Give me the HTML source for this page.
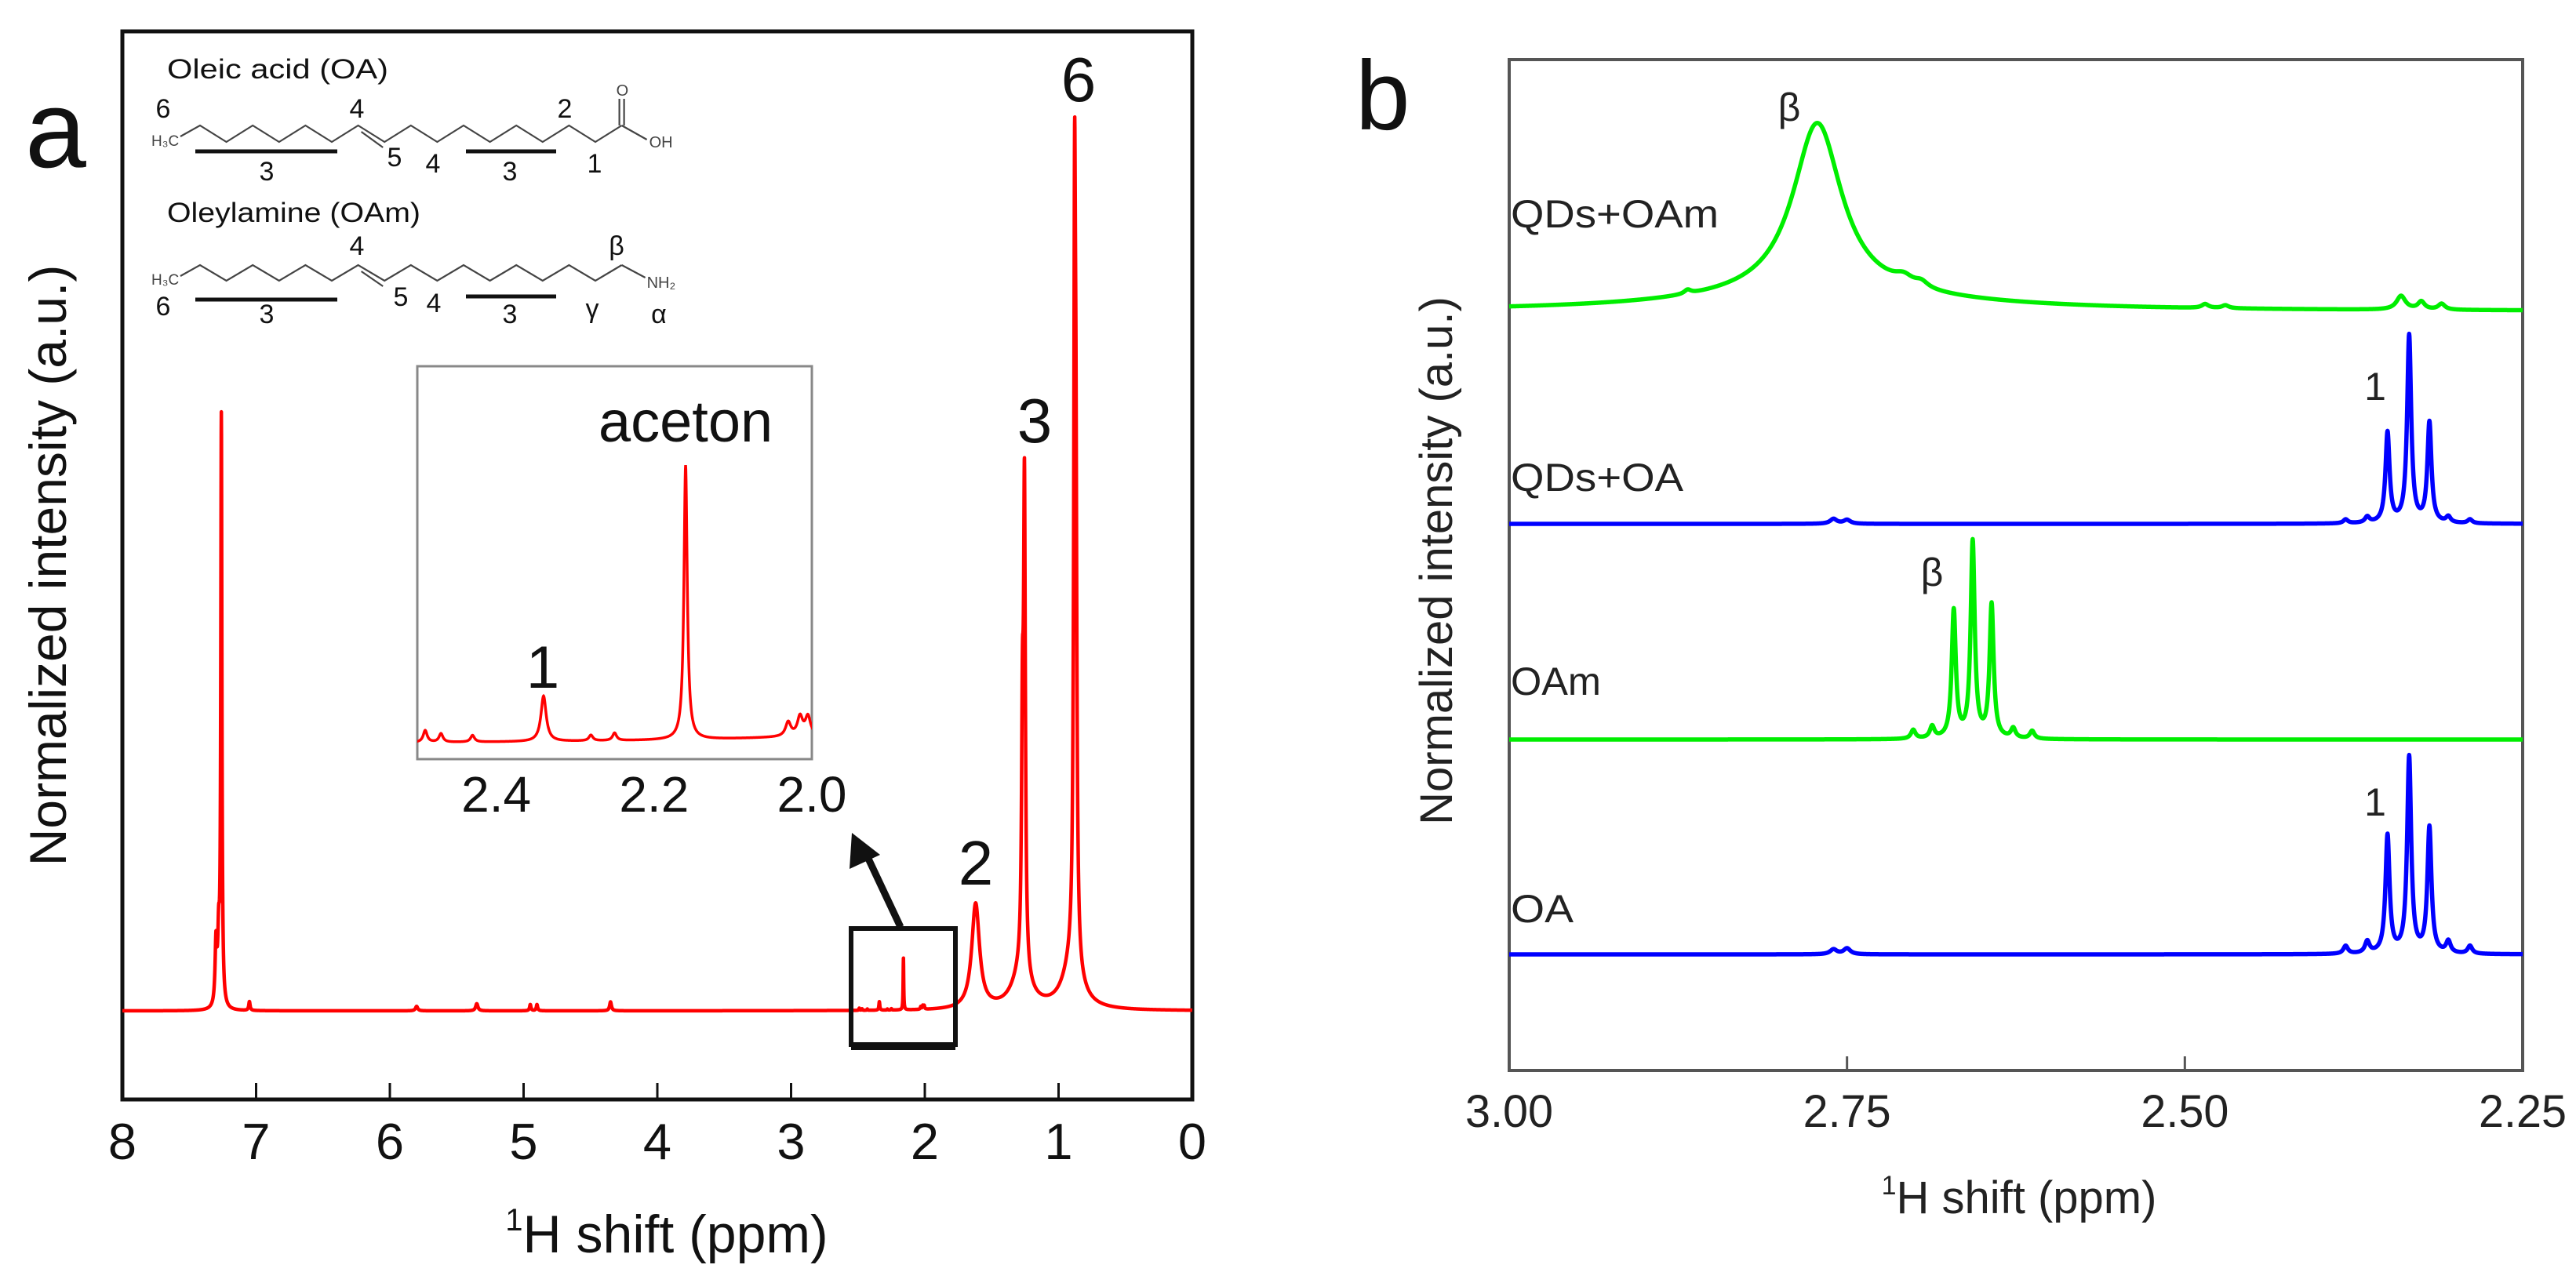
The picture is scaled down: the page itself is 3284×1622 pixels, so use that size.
<!DOCTYPE html>
<html><head><meta charset="utf-8">
<style>
html,body{margin:0;padding:0;background:#fff;}
svg{display:block;}
text{font-family:"Liberation Sans",Arial,sans-serif;}
</style></head>
<body>
<svg id="fig" width="3284" height="1622" viewBox="0 0 3284 1622" xmlns="http://www.w3.org/2000/svg">
  <rect x="0" y="0" width="3284" height="1622" fill="#fff"/>
  <text x="32" y="213" font-size="140" fill="#111">a</text>
  <text x="1728" y="165" font-size="125" fill="#111">b</text>

  <g id="panelA">
    <rect x="156" y="40" width="1364" height="1362" fill="none" stroke="#111" stroke-width="5"/>
    <g id="aTickG"></g>
    <text x="62" y="721" font-size="66" fill="#111" text-anchor="middle" transform="rotate(-90 62 721)" dy="22">Normalized intensity (a.u.)</text>
    <text x="850" y="1597" font-size="68" fill="#111" text-anchor="middle"><tspan font-size="40" dy="-28">1</tspan><tspan dy="28">H shift (ppm)</tspan></text>
    <path id="aLine" fill="none" stroke="#ff0000" stroke-width="4.5" stroke-linejoin="round"/>
    <text x="1375" y="129" font-size="80" fill="#111" text-anchor="middle">6</text>
    <text x="1319" y="564" font-size="80" fill="#111" text-anchor="middle">3</text>
    <text x="1244" y="1128" font-size="80" fill="#111" text-anchor="middle">2</text>
    <rect x="1085" y="1184" width="133" height="148" fill="none" stroke="#111" stroke-width="6"/>
    <line x1="1085" y1="1334" x2="1218" y2="1334" stroke="#111" stroke-width="10"/>
    <line x1="1148" y1="1182" x2="1100" y2="1080" stroke="#111" stroke-width="9"/>
    <polygon points="1086,1062 1083,1108 1122,1090" fill="#111"/>
    <defs><clipPath id="insetClip"><rect x="532" y="467" width="503" height="501"/></clipPath></defs>
    <rect x="532" y="467" width="503" height="501" fill="#fff" stroke="#888" stroke-width="3"/>
    <path id="insetLine" fill="none" stroke="#ff0000" stroke-width="3.5" clip-path="url(#insetClip)"/>
    <g id="insetTickG"></g>
    <text x="763" y="563" font-size="74" fill="#111">aceton</text>
    <text x="692" y="877" font-size="76" fill="#111" text-anchor="middle">1</text>
  </g>

  <g id="structs">
    <text x="213" y="100" font-size="35" fill="#111" textLength="282" lengthAdjust="spacingAndGlyphs">Oleic acid (OA)</text>
    <text x="213" y="283" font-size="35" fill="#111" textLength="323" lengthAdjust="spacingAndGlyphs">Oleylamine (OAm)</text>
    <g id="oaChain"></g>
    <g id="oamChain"></g>
  </g>

  <g id="panelB">
    <rect x="1924" y="76" width="1292" height="1289" fill="none" stroke="#555" stroke-width="4"/>
    <g id="bTickG"></g>
    <text x="1831" y="715" font-size="58" fill="#222" text-anchor="middle" transform="rotate(-90 1831 715)" dy="20">Normalized intensity (a.u.)</text>
    <text x="2574" y="1547" font-size="58" fill="#222" text-anchor="middle"><tspan font-size="34" dy="-24">1</tspan><tspan dy="24">H shift (ppm)</tspan></text>
    <g id="bLines"></g>
    <text x="1926" y="290" font-size="50" fill="#222" textLength="265" lengthAdjust="spacingAndGlyphs">QDs+OAm</text>
    <text x="1926" y="626" font-size="50" fill="#222" textLength="220" lengthAdjust="spacingAndGlyphs">QDs+OA</text>
    <text x="1926" y="886" font-size="50" fill="#222" textLength="115" lengthAdjust="spacingAndGlyphs">OAm</text>
    <text x="1926" y="1176" font-size="50" fill="#222" textLength="80" lengthAdjust="spacingAndGlyphs">OA</text>
    <text x="2281" y="154" font-size="50" fill="#222" text-anchor="middle">β</text>
    <text x="2463" y="747" font-size="50" fill="#222" text-anchor="middle">β</text>
    <text x="3028" y="510" font-size="50" fill="#222" text-anchor="middle">1</text>
    <text x="3028" y="1040" font-size="50" fill="#222" text-anchor="middle">1</text>
  </g>
</svg>
<script>
// ---------- panel a data ----------
const aTicks = [8, 7, 6, 5, 4, 3, 2, 1, 0];
const aPeakShift  = [7.30, 7.28, 7.26, 7.05, 5.80, 5.35, 4.95, 4.90, 4.35, 2.49, 2.47, 2.43, 2.34, 2.28, 2.25, 2.16, 2.03, 2.015, 2.005, 1.62, 1.28, 1.27, 1.255, 0.90, 0.87, 0.88];
const aPeakHeight = [0.07, 0.07, 0.66, 0.010, 0.005, 0.008, 0.007, 0.007, 0.010, 0.0025, 0.0018, 0.0014, 0.0096, 0.0012, 0.0016, 0.058, 0.003, 0.004, 0.004, 0.118, 0.04, 0.25, 0.525, 0.05, 0.40, 0.79];
const aPeakWidth  = [0.008, 0.008, 0.005, 0.006, 0.01, 0.01, 0.006, 0.006, 0.008, 0.003, 0.003, 0.003, 0.004, 0.003, 0.003, 0.0025, 0.004, 0.004, 0.004, 0.035, 0.08, 0.008, 0.008, 0.08, 0.008, 0.008];
const insetTicks = [2.4, 2.2, 2.0];

// ---------- panel b data ----------
const bTicks = ["3.00", "2.75", "2.50", "2.25"];
const bSeriesNames = ["OA", "OAm", "QDs+OA", "QDs+OAm"];
const bOffset = [0.592, 1.688, 2.788, 3.872];
const oaShift  = [2.381, 2.365, 2.350, 2.334, 2.319, 2.305, 2.289, 2.76, 2.75];
const oaHeight = [0.04, 0.06, 0.60, 1.00, 0.64, 0.06, 0.04, 0.025, 0.03];
const oaWidth  = [0.002, 0.002, 0.0018, 0.0018, 0.0018, 0.002, 0.002, 0.003, 0.003];
const oamShift  = [2.701, 2.687, 2.671, 2.657, 2.643, 2.627, 2.613];
const oamHeight = [0.045, 0.06, 0.65, 1.00, 0.68, 0.05, 0.04];
const oamWidth  = [0.002, 0.002, 0.0018, 0.0018, 0.0018, 0.002, 0.002];
const qoaShift  = [2.381, 2.365, 2.350, 2.334, 2.319, 2.305, 2.289, 2.76, 2.75];
const qoaHeight = [0.02, 0.03, 0.46, 0.956, 0.51, 0.03, 0.02, 0.025, 0.02];
const qoaWidth  = [0.002, 0.002, 0.0018, 0.0018, 0.0018, 0.002, 0.002, 0.003, 0.003];
const qoamShift  = [2.77, 2.772, 2.868, 2.708, 2.695, 2.485, 2.47, 2.34, 2.325, 2.31];
const qoamHeight = [0.08, 0.88, 0.02, 0.04, 0.03, 0.02, 0.015, 0.07, 0.04, 0.03];
const qoamWidth  = [0.12, 0.022, 0.003, 0.008, 0.006, 0.003, 0.003, 0.004, 0.003, 0.003];
const bColors = ["#0000ff", "#00ee00", "#0000ff", "#00ee00"];

const NS = "http://www.w3.org/2000/svg";
function mk(tag, attrs, parent){ const e=document.createElementNS(NS,tag); for(const k in attrs) e.setAttribute(k,attrs[k]); parent.appendChild(e); return e; }
function spec(ppm, sh, h, w){ let s=0; for(let i=0;i<sh.length;i++){ const d=(ppm-sh[i])/w[i]; s+=h[i]/(1+d*d);} return s; }

const xA = p => 1520 - p*170.5;
const yA = v => 1289 - v*1136;
const aTickG = document.getElementById('aTickG');
aTicks.forEach(t=>{
  const x=xA(t);
  if(t!==8 && t!==0){
    const l=mk('line',{x1:x,y1:1402,x2:x,y2:1381,stroke:'#111','stroke-width':3},aTickG);
    
    
  }
  const tx=mk('text',{x:x,y:1478,'font-size':65,'text-anchor':'middle',fill:'#111'},aTickG);
  tx.textContent=String(t);
  
  
});
let d='';
for(let p=8; p>=-0.0001; p-=0.001){ d+=(d?'L':'M')+xA(p).toFixed(2)+' '+yA(spec(p,aPeakShift,aPeakHeight,aPeakWidth)).toFixed(2); }
document.getElementById('aLine').setAttribute('d',d);

const xI = p => 532 + (2.5-p)*1006;
const yI = v => 950 - v*6034;
let di='';
for(let p=2.52; p>=1.98; p-=0.0003){ di+=(di?'L':'M')+xI(p).toFixed(2)+' '+yI(spec(p,aPeakShift,aPeakHeight,aPeakWidth)).toFixed(2); }
document.getElementById('insetLine').setAttribute('d',di);
const insetTickG=document.getElementById('insetTickG');
insetTicks.forEach(t=>{
  const tx=mk('text',{x:xI(t),y:1035,'font-size':64,'text-anchor':'middle',fill:'#111'},insetTickG);
  tx.textContent=t.toFixed(1);
  
  
});

const xB = p => 1924 + (3.0-p)*1722.67;
const yB = v => 1365 - v*250;
const bTickG=document.getElementById('bTickG');
bTicks.forEach(t=>{
  const v=parseFloat(t), x=xB(v);
  if(t!=="3.00" && t!=="2.25"){
    const l=mk('line',{x1:x,y1:1365,x2:x,y2:1347,stroke:'#555','stroke-width':3},bTickG);
    
    
  }
  const tx=mk('text',{x:x,y:1437,'font-size':58,'text-anchor':'middle',fill:'#222',textLength:112,lengthAdjust:'spacingAndGlyphs'},bTickG);
  tx.textContent=t;
  
  
});
const bShift=[oaShift,oamShift,qoaShift,qoamShift], bHeight=[oaHeight,oamHeight,qoaHeight,qoamHeight], bWidth=[oaWidth,oamWidth,qoaWidth,qoamWidth];
const bLines=document.getElementById('bLines');
bSeriesNames.forEach((nm,i)=>{
  let s='';
  for(let p=3.0; p>=2.2499; p-=0.0002){ s+=(s?'L':'M')+xB(p).toFixed(2)+' '+yB(bOffset[i]+spec(p,bShift[i],bHeight[i],bWidth[i])).toFixed(2); }
  const path=mk('path',{d:s,fill:'none',stroke:bColors[i],'stroke-width':5.5,'stroke-linejoin':'round'},bLines);
  
  
});

function chain(g, yPeak, yTrough, amine){
  const st={stroke:'#444','stroke-width':2.2,fill:'none'};
  const pts=[[230,yPeak+14]];
  for(let i=0;i<=16;i++) pts.push([255+33.6*i, i%2===0?yPeak:yTrough]);
  mk('polyline',Object.assign({points:pts.map(p=>p.join(',')).join(' ')},st),g);
  const a=pts[7], b=pts[8];
  mk('line',Object.assign({x1:a[0]+4,y1:a[1]+8,x2:b[0]-2,y2:b[1]+7},st),g);
  mk('text',{x:193,y:yTrough+5,'font-size':19,fill:'#444'},g).textContent='H\u2083C';
  const c=pts[17];
  if(!amine){
    mk('line',Object.assign({x1:c[0]-3,y1:c[1],x2:c[0]-3,y2:c[1]-34},st),g);
    mk('line',Object.assign({x1:c[0]+3,y1:c[1],x2:c[0]+3,y2:c[1]-34},st),g);
    mk('text',{x:c[0]-7,y:c[1]-38,'font-size':20,fill:'#444'},g).textContent='O';
    mk('line',Object.assign({x1:c[0],y1:c[1],x2:c[0]+32,y2:c[1]+18},st),g);
    mk('text',{x:c[0]+35,y:c[1]+28,'font-size':20,fill:'#444'},g).textContent='OH';
  } else {
    mk('line',Object.assign({x1:c[0],y1:c[1],x2:c[0]+30,y2:c[1]+16},st),g);
    mk('text',{x:c[0]+32,y:c[1]+29,'font-size':20,fill:'#444'},g).textContent='NH\u2082';
  }
}
const oa=document.getElementById('oaChain'), oam=document.getElementById('oamChain');
chain(oa,160,181,false); chain(oam,338,358,true);
function lab(g,x,y,t,fs){ const e=mk('text',{x:x,y:y,'font-size':fs||34,'text-anchor':'middle',fill:'#111'},g); e.textContent=t; return e; }
lab(oa,208,150,'6'); lab(oa,455,150,'4'); lab(oa,720,150,'2');
mk('line',{x1:249,y1:193,x2:430,y2:193,stroke:'#111','stroke-width':5},oa);
mk('line',{x1:594,y1:193,x2:709,y2:193,stroke:'#111','stroke-width':5},oa);
lab(oa,340,230,'3'); lab(oa,503,212,'5'); lab(oa,552,220,'4'); lab(oa,650,230,'3'); lab(oa,758,220,'1');
lab(oam,455,325,'4'); lab(oam,786,325,'β');
mk('line',{x1:249,y1:382,x2:430,y2:382,stroke:'#111','stroke-width':5},oam);
mk('line',{x1:594,y1:378,x2:709,y2:378,stroke:'#111','stroke-width':5},oam);
lab(oam,208,402,'6'); lab(oam,340,412,'3'); lab(oam,511,390,'5'); lab(oam,553,398,'4'); lab(oam,650,412,'3'); lab(oam,755,405,'γ'); lab(oam,840,412,'α');
</script>
</body></html>
